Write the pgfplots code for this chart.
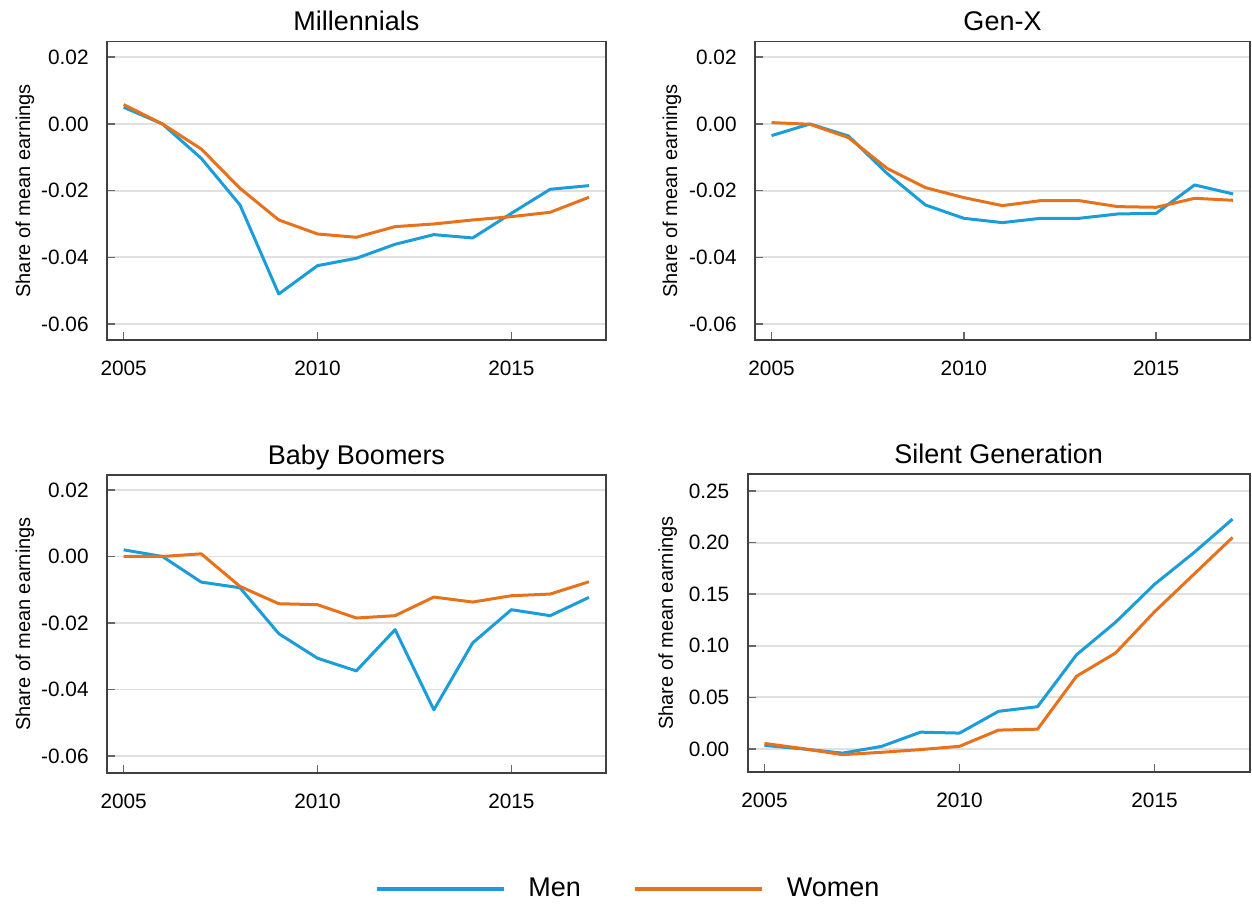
\documentclass[border=0pt]{standalone}
\usepackage{fontspec}
\setmainfont{Liberation Sans}
\usepackage{pgfplots}
\pgfplotsset{compat=1.18}

\definecolor{menblue}{RGB}{27,157,217}
\definecolor{womenorange}{RGB}{232,114,28}

\pgfplotsset{
  panel/.style={
    scale only axis, anchor=south west,
    xmin=2004.57, xmax=2017.44,
    xtick={2005,2010,2015},
    tick align=inside, xtick pos=left, ytick pos=left,
    major tick length=4pt,
    tick style={black!60, line width=0.8pt},
    axis line style={black!75, line width=0.9pt},
    ymajorgrids, grid style={black!12, line width=0.9pt},
    scaled y ticks=false,
    tick label style={font=\fontsize{10.4}{12}\selectfont, inner sep=0pt},
    xticklabel style={/pgf/number format/1000 sep={}, /pgf/number format/assume math mode=true, anchor=north, yshift=-10.5pt},
    yticklabel style={/pgf/number format/.cd, fixed, fixed zerofill, precision=2, assume math mode=true, /tikz/.cd, anchor=east, xshift=-9pt},
    every axis title/.style={at={(axis description cs:0.5,1)}, anchor=base, yshift=5.4pt, inner sep=0pt, font=\fontsize{13.5}{16}\selectfont},
    ylabel={Share of mean earnings},
    label style={font=\fontsize{9.2}{11}\selectfont},
  },
  ylab/.style={every axis y label/.style={at={(axis description cs:#1,0.5)}, rotate=90, anchor=center}},
  men/.style={draw=menblue, line width=1.5pt, line join=round, mark=none},
  women/.style={draw=womenorange, line width=1.5pt, line join=round, mark=none},
}

\begin{document}
\begin{tikzpicture}
\path (0,0) rectangle (626pt,452pt);

% Millennials
\begin{axis}[panel, at={(53.5pt,282pt)}, width=249.5pt, height=149.2pt,
  ymin=-0.0648, ymax=0.0247, ytick={-0.06,-0.04,-0.02,0,0.02},
  ylab=-0.1643, title={Millennials}]
\addplot[men] coordinates {
(2005,0.0050) (2006,0.0000) (2007,-0.0103) (2008,-0.0243) (2009,-0.0510) (2010,-0.0425)
(2011,-0.0403) (2012,-0.0361) (2013,-0.0332) (2014,-0.0342) (2015,-0.0268) (2016,-0.0196) (2017,-0.0185)};
\addplot[women] coordinates {
(2005,0.0058) (2006,0.0000) (2007,-0.0075) (2008,-0.0193) (2009,-0.0288) (2010,-0.0330)
(2011,-0.0340) (2012,-0.0308) (2013,-0.0300) (2014,-0.0288) (2015,-0.0278) (2016,-0.0265) (2017,-0.0220)};
\end{axis}

% Gen-X
\begin{axis}[panel, at={(377.5pt,282pt)}, width=247.5pt, height=149.2pt,
  ymin=-0.0648, ymax=0.0247, ytick={-0.06,-0.04,-0.02,0,0.02},
  ylab=-0.1677, title={Gen-X}]
\addplot[men] coordinates {
(2005,-0.0035) (2006,0.0000) (2007,-0.0036) (2008,-0.0148) (2009,-0.0243) (2010,-0.0283)
(2011,-0.0296) (2012,-0.0283) (2013,-0.0283) (2014,-0.0270) (2015,-0.0268) (2016,-0.0183) (2017,-0.0210)};
\addplot[women] coordinates {
(2005,0.0004) (2006,-0.0001) (2007,-0.0041) (2008,-0.0133) (2009,-0.0191) (2010,-0.0221)
(2011,-0.0245) (2012,-0.0230) (2013,-0.0230) (2014,-0.0248) (2015,-0.0250) (2016,-0.0223) (2017,-0.0229)};
\end{axis}

% Silent Generation
\begin{axis}[panel, at={(373.85pt,66pt)}, width=251pt, height=149pt,
  ymin=-0.0223, ymax=0.2665, ytick={0,0.05,0.10,0.15,0.20,0.25},
  ylab=-0.1594, title={Silent Generation}]
\addplot[men] coordinates {
(2005,0.0035) (2006,0.0000) (2007,-0.0040) (2008,0.0025) (2009,0.0163) (2010,0.0154)
(2011,0.0365) (2012,0.0410) (2013,0.0913) (2014,0.1228) (2015,0.1596) (2016,0.1900) (2017,0.2228)};
\addplot[women] coordinates {
(2005,0.0054) (2006,0.0003) (2007,-0.0055) (2008,-0.0032) (2009,-0.0006) (2010,0.0026)
(2011,0.0183) (2012,0.0192) (2013,0.0705) (2014,0.0930) (2015,0.1330) (2016,0.1690) (2017,0.2050)};
\end{axis}

% Baby Boomers (carries the legend)
\begin{axis}[panel, at={(53.5pt,65.5pt)}, width=249.5pt, height=149pt,
  ymin=-0.0651, ymax=0.0245, ytick={-0.06,-0.04,-0.02,0,0.02},
  ylab=-0.1643, title={Baby Boomers},
  legend style={at={(axis description cs:1.042,-0.388)}, anchor=center,
    draw=none, fill=none, legend columns=2,
    font=\fontsize{13.5}{16}\selectfont, nodes={inner sep=0pt},
    /tikz/every odd column/.append style={column sep=11.5pt},
    /tikz/every even column/.append style={column sep=26pt}},
  legend image code/.code={\draw[#1, line width=1.9pt] (0pt,0pt) -- (63.5pt,0pt);}]
\addplot[men] coordinates {
(2005,0.0020) (2006,0.0000) (2007,-0.0077) (2008,-0.0094) (2009,-0.0232) (2010,-0.0306)
(2011,-0.0344) (2012,-0.0220) (2013,-0.0461) (2014,-0.0260) (2015,-0.0160) (2016,-0.0178) (2017,-0.0123)};
\addlegendentry{Men}
\addplot[women] coordinates {
(2005,0.0000) (2006,0.0000) (2007,0.0008) (2008,-0.0090) (2009,-0.0142) (2010,-0.0145)
(2011,-0.0185) (2012,-0.0178) (2013,-0.0122) (2014,-0.0137) (2015,-0.0118) (2016,-0.0113) (2017,-0.0076)};
\addlegendentry{Women}
\end{axis}
\end{tikzpicture}
\end{document}
